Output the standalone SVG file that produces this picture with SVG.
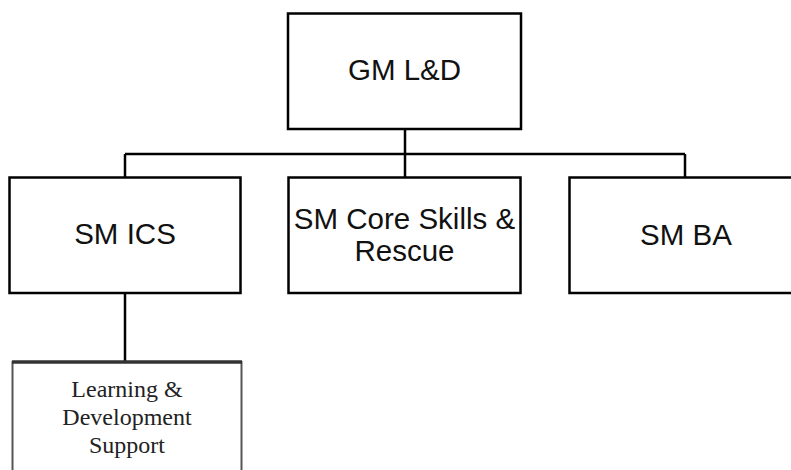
<svg xmlns="http://www.w3.org/2000/svg" width="791" height="470" viewBox="0 0 791 470">
<style>
.box{fill:#fff;stroke:#000;stroke-width:2.5}
.t{font-family:"Liberation Sans",Arial,sans-serif;font-size:29.5px;fill:#111;text-anchor:middle}
.s{font-family:"Liberation Serif","Times New Roman",serif;font-size:24px;fill:#222;text-anchor:middle}
.c{stroke:#000;stroke-width:2.5;fill:none}
</style>
<rect width="791" height="470" fill="#fff"/>
<g id="connectors">
<path class="c" d="M405 129V177"/>
<path class="c" d="M125 154H685"/>
<path class="c" d="M125 154V178"/>
<path class="c" d="M685 154V178"/>
<path class="c" d="M125 293V362"/>
</g>
<g id="gm">
<rect class="box" x="288" y="13.5" width="233" height="115.5"/>
<text class="t" x="404.5" y="80">GM L&amp;D</text>
</g>
<g id="sm-ics">
<rect class="box" x="9.5" y="177.5" width="231" height="115.5"/>
<text class="t" x="125" y="244">SM ICS</text>
</g>
<g id="sm-core">
<rect class="box" x="288.5" y="177.5" width="232" height="115.5"/>
<text class="t" x="404.5" y="229">SM Core Skills &amp;</text>
<text class="t" x="404.5" y="261">Rescue</text>
</g>
<g id="sm-ba">
<rect class="box" x="569.5" y="177.5" width="240" height="115.5"/>
<text class="t" x="686" y="244.5">SM BA</text>
</g>
<g id="lds">
<rect x="12.5" y="362" width="229" height="130" fill="#fff" stroke="#555" stroke-width="2"/>
<path d="M12 362H242" stroke="#333" stroke-width="3.5"/>
<text class="s" x="127" y="397">Learning &amp;</text>
<text class="s" x="127" y="425">Development</text>
<text class="s" x="127" y="453">Support</text>
</g>
</svg>
